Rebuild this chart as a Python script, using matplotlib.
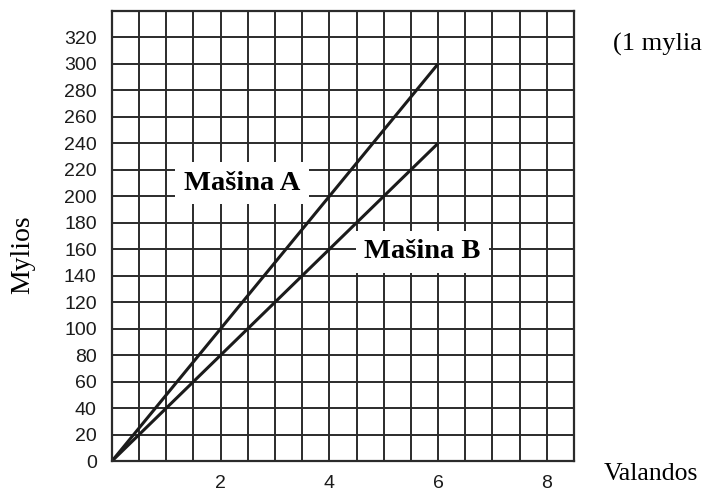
import numpy as np
import matplotlib
matplotlib.use("Agg")
import matplotlib.pyplot as plt

# nuvažiuotas atstumas (mylios) pagal laiką (valandos)
hours = [0, 6]
mashina_a = [0, 300]
mashina_b = [0, 240]

x_labels = [2, 4, 6, 8]
y_labels = list(range(0, 321, 20))

SERIF = "Liberation Serif"
SANS = "Liberation Sans"
INK = "#1b1b1b"

fig = plt.figure(figsize=(7.03, 4.93), dpi=100)
ax = fig.add_axes([0.1593, 0.0649, 0.657, 0.9128])
ax.set_xlim(0, 8.5)
ax.set_ylim(0, 340)

xt = np.arange(0, 8.51, 0.5)
yt = np.arange(0, 341, 20)
ax.set_xticks(xt)
ax.set_xticklabels([str(int(v)) if v in x_labels else "" for v in xt],
                   family=SANS, fontsize=14)
ax.set_yticks(yt)
ax.set_yticklabels([str(int(v)) if v in y_labels else "" for v in yt],
                   family=SANS, fontsize=14)
ax.tick_params(length=0, pad=11, colors=INK)
ax.tick_params(axis="x", pad=10)
ax.grid(True, color="#2b2b2b", lw=1.4)
ax.set_axisbelow(True)
for s in ax.spines.values():
    s.set_color("#2b2b2b")
    s.set_linewidth(1.6)

ax.plot(hours, mashina_a, color=INK, lw=2.2, solid_capstyle="butt")
ax.plot(hours, mashina_b, color=INK, lw=2.2, solid_capstyle="butt")

box = dict(boxstyle="square,pad=0.3", fc="white", ec="none")
ax.text(2.39, 210, "Mašina A", family=SERIF, fontweight="bold", fontsize=20.5,
        ha="center", va="center", color="black", bbox=box)
ax.text(5.71, 158, "Mašina B", family=SERIF, fontweight="bold", fontsize=20.5,
        ha="center", va="center", color="black", bbox=box)

fig.text(0.033, 0.483, "Mylios", family=SERIF, fontsize=20, rotation=90,
         ha="center", va="center", color="black")
fig.text(0.859, 0.038, "Valandos", family=SERIF, fontsize=18.5,
         ha="left", va="center", color="black")
fig.text(0.872, 0.91, "(1 mylia", family=SERIF, fontsize=19,
         ha="left", va="center", color="black")

fig.savefig("out.png", dpi=100, facecolor="white")
